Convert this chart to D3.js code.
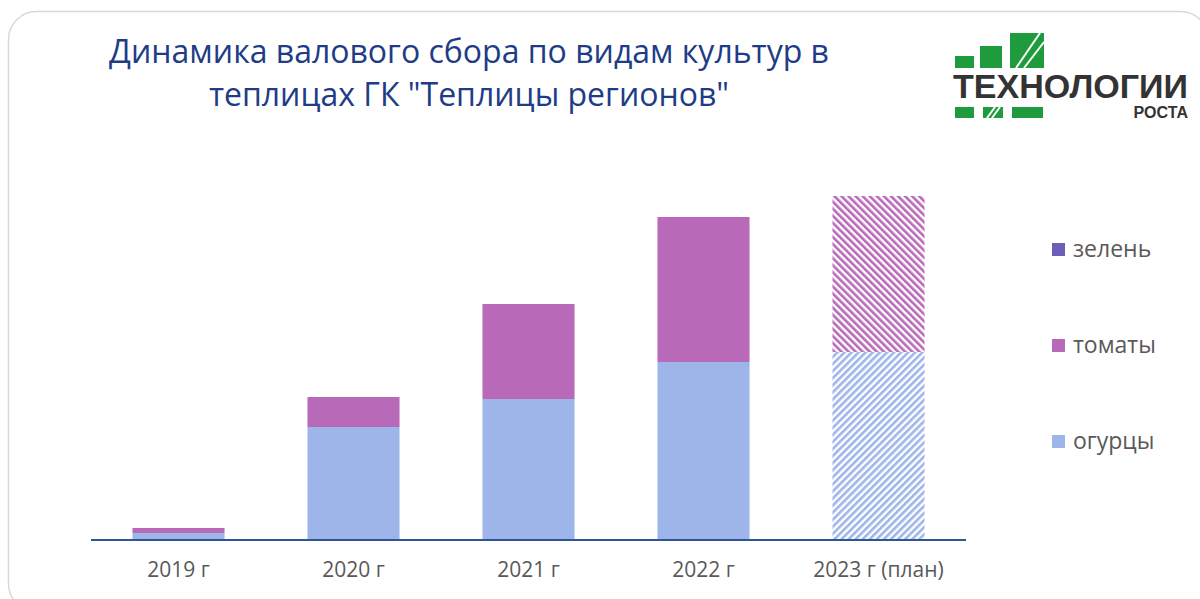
<!DOCTYPE html>
<html>
<head>
<meta charset="utf-8">
<script src="https://cdn.jsdelivr.net/npm/d3@7"></script>
<style>
  body { margin: 0; background: #fff; }
  svg { display: block; font-family: "Open Sans", "Noto Sans", sans-serif; }
</style>
</head>
<body>
<svg width="1200" height="599"></svg>
<script>
// Data
var years = ["2019 г", "2020 г", "2021 г", "2022 г", "2023 г (план)"];
var cucumbers = [7, 113, 141, 178, 188];
var tomatoes = [5, 30, 95, 145, 156];
var greens = [0, 0, 0, 0, 0];
var planned = [false, false, false, false, true];
var seriesNames = ["огурцы", "томаты", "зелень"];
var seriesColors = ["#9DB5E8", "#B869B8", "#6B5FB8"];
var titleLines = ["Динамика валового сбора по видам культур в", "теплицах ГК \"Теплицы регионов\""];

var svg = d3.select("svg");

// card frame
svg.append("rect")
    .attr("x", 8.5).attr("y", 11.5)
    .attr("width", 1200).attr("height", 600)
    .attr("rx", 28)
    .attr("fill", "#fff")
    .attr("stroke", "#d9d9d9")
    .attr("stroke-width", 1.5);

// hatch patterns for the plan year
var defs = svg.append("defs");
function hatch(id, color, angle) {
  var p = defs.append("pattern")
      .attr("id", id)
      .attr("patternUnits", "userSpaceOnUse")
      .attr("width", 5).attr("height", 5)
      .attr("patternTransform", "rotate(" + angle + ")");
  p.append("rect").attr("width", 5).attr("height", 5).attr("fill", "#fff");
  p.append("rect").attr("width", 2.6).attr("height", 5).attr("fill", color);
}
hatch("hatch0", seriesColors[0], 45);
hatch("hatch1", seriesColors[1], -45);
hatch("hatch2", seriesColors[2], -45);

// title
svg.append("g").selectAll("text")
    .data(titleLines)
    .join("text")
    .attr("x", 469)
    .attr("y", (d, i) => 63 + i * 43)
    .attr("text-anchor", "middle")
    .attr("font-size", 32)
    .attr("fill", "#203C86")
    .text(d => d);

// scales
var x = d3.scaleBand()
    .domain(years)
    .range([91, 966])
    .paddingInner(0.474)
    .paddingOuter(0.237);
var y = d3.scaleLinear()
    .domain([0, 350])
    .range([540, 190]);

var table = years.map((yr, i) => ({year: yr, "огурцы": cucumbers[i], "томаты": tomatoes[i], "зелень": greens[i], plan: planned[i]}));
var stack = d3.stack().keys(seriesNames)(table);

var bars = svg.append("g");
stack.forEach((layer, si) => {
  bars.append("g").selectAll("rect")
      .data(layer)
      .join("rect")
      .attr("x", d => x(d.data.year))
      .attr("width", x.bandwidth())
      .attr("y", d => y(d[1]))
      .attr("height", d => y(d[0]) - y(d[1]))
      .attr("fill", d => d.data.plan ? "url(#hatch" + si + ")" : seriesColors[si]);
});

// x axis
var xAxis = svg.append("g")
    .attr("transform", "translate(0,540)")
    .call(d3.axisBottom(x).tickSize(0).tickPadding(22));
xAxis.select(".domain")
    .attr("d", "M91,0H966")
    .attr("stroke", "#2F5597")
    .attr("stroke-width", 2);
xAxis.selectAll("text")
    .attr("font-family", "Open Sans")
    .attr("font-size", 21)
    .attr("fill", "#595959");

// legend
var legend = svg.append("g").selectAll("g")
    .data(seriesNames.slice().reverse())
    .join("g")
    .attr("transform", (d, i) => "translate(1052," + (243 + i * 96) + ")");
legend.append("rect")
    .attr("width", 13).attr("height", 13)
    .attr("fill", d => seriesColors[seriesNames.indexOf(d)]);
legend.append("text")
    .attr("x", 21).attr("y", 14)
    .attr("font-size", 23)
    .attr("fill", "#595959")
    .text(d => d);

// logo
var green = "#1E9B3C";
var logo = svg.append("g");
[[955, 56, 19, 12], [980, 46, 22, 22], [1010, 33, 34, 35],
 [955, 107, 19, 11], [983, 107, 20, 11], [1012, 107, 31, 11]].forEach(r => {
  logo.append("rect").attr("x", r[0]).attr("y", r[1])
      .attr("width", r[2]).attr("height", r[3]).attr("fill", green);
});
logo.append("path")
    .attr("d", "M1016,68 L1040,33 M1024,68 L1044,42 M987,118 L995,107 M992,118 L1000,107")
    .attr("stroke", "#fff").attr("stroke-width", 2).attr("fill", "none");
logo.append("text")
    .attr("x", 953).attr("y", 98)
    .attr("font-family", "Liberation Sans Narrow, Liberation Sans")
    .attr("font-weight", "bold")
    .attr("font-size", 33)
    .attr("textLength", 235)
    .attr("lengthAdjust", "spacingAndGlyphs")
    .attr("fill", "#333")
    .text("ТЕХНОЛОГИИ");
logo.append("text")
    .attr("x", 1188).attr("y", 118)
    .attr("text-anchor", "end")
    .attr("font-family", "Liberation Sans")
    .attr("font-weight", "bold")
    .attr("font-size", 16)
    .attr("fill", "#333")
    .text("РОСТА");
</script>
</body>
</html>
